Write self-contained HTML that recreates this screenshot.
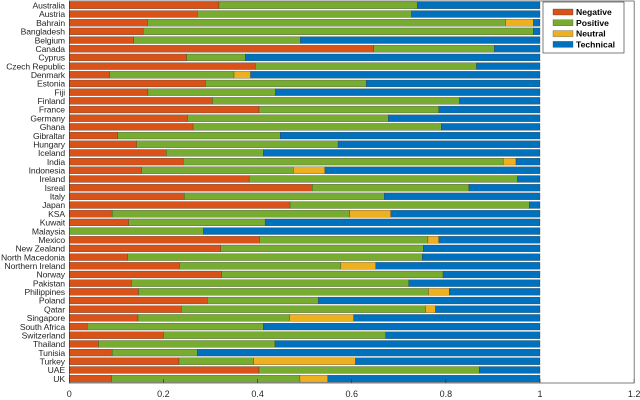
<!DOCTYPE html>
<html><head><meta charset="utf-8"><style>
html,body{margin:0;padding:0;background:#fff;}
svg{display:block;font-family:"Liberation Sans",Arial,sans-serif;}
</style></head><body>
<svg id="chart" width="640" height="400"></svg>
<script>
const categories=["Australia","Austria","Bahrain","Bangladesh","Belgium","Canada","Cyprus","Czech Republic","Denmark","Estonia","Fiji","Finland","France","Germany","Ghana","Gibraltar","Hungary","Iceland","India","Indonesia","Ireland","Isreal","Italy","Japan","KSA","Kuwait","Malaysia","Mexico","New Zealand","North Macedonia","Northern Ireland","Norway","Pakistan","Philippines","Poland","Qatar","Singapore","South Africa","Switzerland","Thailand","Tunisia","Turkey","UAE","UK"];
const negative=[0.318,0.272,0.166,0.157,0.137,0.647,0.249,0.395,0.086,0.289,0.167,0.304,0.403,0.251,0.263,0.103,0.143,0.206,0.242,0.154,0.382,0.516,0.244,0.469,0.091,0.126,0,0.404,0.322,0.124,0.234,0.324,0.132,0.147,0.293,0.238,0.146,0.038,0.200,0.062,0.091,0.233,0.403,0.090];
const positive=[0.421,0.455,0.761,0.829,0.354,0.256,0.125,0.470,0.264,0.342,0.271,0.525,0.382,0.427,0.527,0.345,0.428,0.206,0.680,0.322,0.570,0.333,0.425,0.508,0.505,0.290,0.285,0.358,0.430,0.626,0.343,0.470,0.589,0.616,0.236,0.519,0.322,0.374,0.472,0.375,0.181,0.159,0.468,0.400];
const neutral=[0,0,0.059,0,0,0,0,0,0.035,0,0,0,0,0,0,0,0,0,0.027,0.067,0,0,0,0,0.087,0,0,0.023,0,0,0.074,0,0,0.044,0,0.021,0.136,0,0,0,0,0.216,0,0.059];
const xTicks=[0,0.2,0.4,0.6,0.8,1,1.2];
const seriesNames=["Negative","Positive","Neutral","Technical"];
const colors=["#d95319","#77ac30","#edb120","#0072bd"];

const svg=document.getElementById('chart');
const NS='http://www.w3.org/2000/svg';
const X0=69.3,PX=470.7,Y0=1,Y1=383;
const xs=v=>X0+v*PX;
const rowH=(Y1-Y0)/categories.length;
const ys=i=>Y0+i*rowH;
function mk(tag,attrs,parent){const e=document.createElementNS(NS,tag);for(const k in attrs)e.setAttribute(k,attrs[k]);(parent||svg).appendChild(e);return e;}

const bars=mk('g',{});


categories.forEach((c,i)=>{
  const tech=Math.max(0,1-negative[i]-positive[i]-neutral[i]);
  const vals=[negative[i],positive[i],neutral[i],tech];
  let acc=0;
  vals.forEach((v,s)=>{
    if(v>0){
      const r=mk('rect',{x:xs(acc),y:ys(i)+0.9,width:v*PX,height:rowH-1.8,fill:colors[s],stroke:'#333','stroke-width':0.3},bars);
      
      
    }
    acc+=v;
  });
  const t=mk('text',{x:65,y:ys(i)+rowH/2+3.2,'text-anchor':'end','font-size':8.6,fill:'#262626','letter-spacing':'-0.1'});
  t.textContent=c;
  
  
});

const axis=mk('rect',{x:X0,y:Y0,width:1.2*PX,height:Y1-Y0,fill:'none',stroke:'#262626','stroke-width':0.6});


xTicks.forEach(v=>{
  const l=mk('line',{x1:xs(v),x2:xs(v),y1:Y1,y2:Y1-4,stroke:'#262626','stroke-width':0.6});
  
  
  const t=mk('text',{x:xs(v),y:397,'text-anchor':'middle','font-size':9,fill:'#262626'});
  t.textContent=String(v);
  
  
});

const lg=mk('g',{});


mk('rect',{x:543,y:2,width:81,height:51,fill:'#fff',stroke:'#262626','stroke-width':0.6},lg);
seriesNames.forEach((n,s)=>{
  const y=8+s*10.8;
  const sw=mk('rect',{x:553,y:y+1,width:20,height:6,fill:colors[s],stroke:'#333','stroke-width':0.3},lg);
  
  
  const t=mk('text',{x:576,y:y+7,'font-size':8.6,'font-weight':'bold',fill:'#000'},lg);
  t.textContent=n;
  
  
});
</script>
</body></html>
